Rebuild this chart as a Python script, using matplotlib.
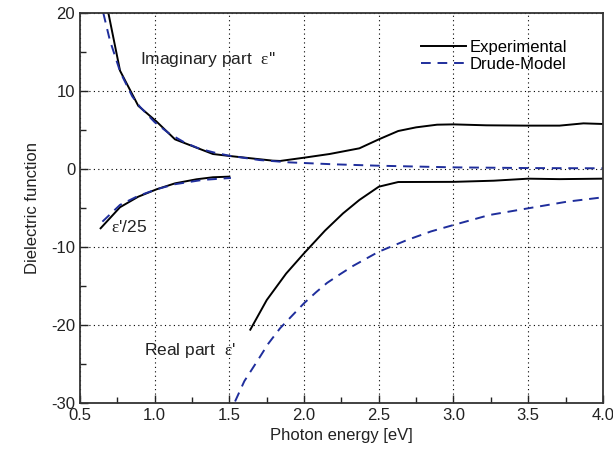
import numpy as np
from matplotlib import pyplot as plt

plt.rcParams['font.family'] = ['Liberation Sans', 'DejaVu Sans']
plt.rcParams['axes.unicode_minus'] = False
plt.rcParams['mathtext.fontset'] = 'custom'
plt.rcParams['mathtext.rm'] = 'Liberation Serif'
plt.rcParams['mathtext.it'] = 'Liberation Serif:italic'

BLUE = "#1f2e9c"

# Imaginary part eps''
im_exp_x = [0.69, 0.768, 0.89, 1.013, 1.136, 1.28, 1.39, 1.5, 1.79, 1.84, 2.0, 2.17, 2.37,
            2.5, 2.63, 2.75, 2.89, 3.0, 3.22, 3.49, 3.71, 3.87, 4.0]
im_exp_y = [20.0, 12.6, 8.1, 6.07, 3.8, 2.73, 1.92, 1.67, 1.07, 1.03, 1.45, 1.92, 2.65,
            3.8, 4.87, 5.34, 5.68, 5.72, 5.6, 5.56, 5.56, 5.85, 5.77]
im_drude_x = [0.656, 0.70, 0.77, 0.85, 0.9, 1.0, 1.1, 1.2, 1.3, 1.4, 1.5, 1.7, 1.9, 2.2,
              2.5, 3.0, 3.5, 4.0]
im_drude_y = [20.0, 16.5, 12.4, 9.3, 8.0, 6.0, 4.5, 3.4, 2.6, 2.1, 1.7, 1.15, 0.85, 0.6,
              0.42, 0.21, 0.12, 0.09]

# Real part eps'/25 (low energy)
re25_exp_x = [0.638, 0.768, 0.89, 1.013, 1.136, 1.28, 1.39, 1.5]
re25_exp_y = [-7.6, -4.9, -3.55, -2.6, -1.84, -1.32, -1.06, -0.98]
re25_drude_x = [0.65, 0.768, 0.89, 1.013, 1.136, 1.32, 1.51]
re25_drude_y = [-6.75, -4.6, -3.45, -2.6, -1.95, -1.4, -1.15]

# Real part eps'
re_exp_x = [1.64, 1.75, 1.88, 2.0, 2.14, 2.26, 2.37, 2.5, 2.63, 3.0, 3.27, 3.5, 3.71, 4.0]
re_exp_y = [-20.6, -16.8, -13.4, -10.8, -7.9, -5.7, -3.97, -2.27, -1.67, -1.65, -1.5,
            -1.24, -1.3, -1.24]
re_drude_x = [1.538, 1.6, 1.684, 1.76, 1.84, 1.92, 2.0, 2.08, 2.154, 2.24, 2.33, 2.5, 2.69,
              2.85, 3.0, 3.24, 3.5, 3.76, 4.0]
re_drude_y = [-29.8, -27.2, -24.7, -22.4, -20.4, -18.8, -17.2, -15.8, -14.6, -13.5, -12.4,
              -10.6, -9.1, -8.0, -7.18, -5.9, -5.04, -4.19, -3.63]

fig = plt.figure(figsize=(6.13, 4.59), dpi=100)
ax = fig.add_axes([0.1305, 0.122, 0.853, 0.8497])

dash = (0, (5, 3.5))
ax.plot(im_exp_x, im_exp_y, color="black", lw=1.4, label="Experimental")
ax.plot(im_drude_x, im_drude_y, color=BLUE, lw=1.4, ls=dash, label="Drude-Model")
ax.plot(re25_exp_x, re25_exp_y, color="black", lw=1.4)
ax.plot(re25_drude_x, re25_drude_y, color=BLUE, lw=1.4, ls=dash)
ax.plot(re_exp_x, re_exp_y, color="black", lw=1.4)
ax.plot(re_drude_x, re_drude_y, color=BLUE, lw=1.4, ls=dash)

eps = "$\\mathrm{\u03b5}$"
ax.text(0.9, 14.0, "Imaginary part  " + eps + "''", fontsize=12.5, va="center", color="#222222")
ax.text(0.71, -7.4, eps + "'/25", fontsize=12.5, va="center", color="#222222")
ax.text(0.93, -23.3, "Real part  " + eps + "'", fontsize=12.5, va="center", color="#222222")

ax.set_xlim(0.5, 4.0)
ax.set_ylim(-30, 20)
ax.set_xticks(np.arange(0.5, 4.01, 0.5))
ax.set_xticks(np.arange(0.75, 4.0, 0.5), minor=True)
ax.set_yticks(np.arange(-30, 21, 10))
ax.set_yticks(np.arange(-25, 20, 10), minor=True)
ax.xaxis.set_major_formatter(plt.FormatStrFormatter("%.1f"))
ax.yaxis.set_major_formatter(plt.FormatStrFormatter("%d"))
ax.tick_params(which="both", direction="in", top=False, right=False, labelsize=12,
               colors="#222222", width=1.0)
ax.tick_params(which="major", length=6)
ax.tick_params(which="minor", length=4)
ax.grid(True, which="major", ls=(0, (1, 3)), color="black", lw=0.8)
for s in ax.spines.values():
    s.set_linewidth(1.3)
    s.set_color("#333333")

ax.set_xlabel("Photon energy [eV]", fontsize=12, color="#222222", labelpad=4)
ax.set_ylabel("Dielectric function", fontsize=12, color="#222222", labelpad=8)

ax.legend(loc="upper right", bbox_to_anchor=(0.96, 0.97), frameon=False, fontsize=12,
          handlelength=2.7, handletextpad=0.2, labelspacing=0.15)

fig.savefig("out.png", dpi=100)
